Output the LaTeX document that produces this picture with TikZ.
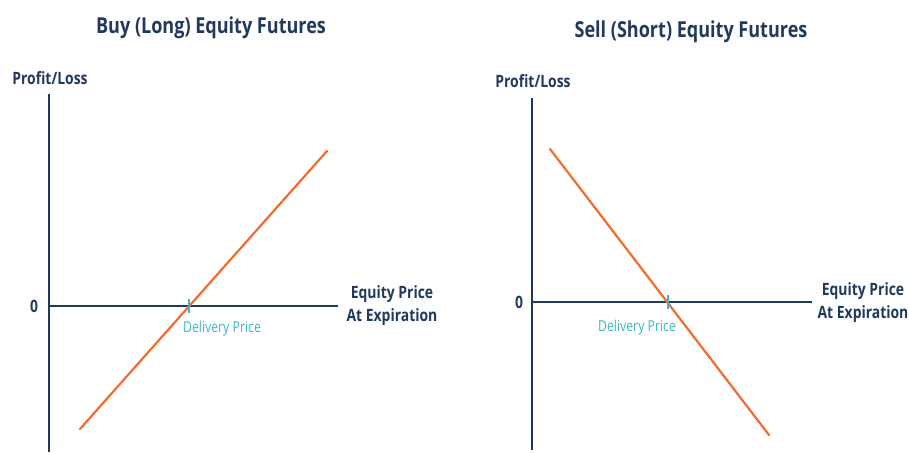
\documentclass[tikz,border=0pt]{standalone}
\usepackage{fontspec}
\setmainfont{Open Sans}[FakeStretch=0.82]
\definecolor{navy}{HTML}{22395E}
\definecolor{orng}{HTML}{F36C2E}
\definecolor{teal2}{HTML}{3DB4C2}
\begin{document}
\begin{tikzpicture}[x=1pt,y=-1pt,
  axis/.style={draw=navy,line width=2.5pt},
  payoff/.style={draw=orng,line width=2.2pt,line cap=round},
  dtick/.style={draw=teal2,line width=1.8pt},
  ttl/.style={text=navy,font=\fontsize{22}{24}\selectfont\bfseries,inner sep=0pt},
  lbl/.style={text=navy,font=\fontsize{17}{19}\selectfont\bfseries,inner sep=0pt,align=center},
  dlbl/.style={text=teal2,font=\fontsize{15}{17}\selectfont,inner sep=0pt}]
\useasboundingbox (0,0) rectangle (909,452);
% left chart
\node[ttl] (t1) at (211,28) {Buy (Long) Equity Futures};
\node[lbl] (pl1) at (50,78) {Profit/Loss};
\coordinate (ya1t) at (49,94);
\coordinate (ya1b) at (49,452);
\coordinate (xa1l) at (49,306);
\coordinate (xa1r) at (338,306);
\draw[axis] (ya1t) -- (ya1b);
\draw[axis] (xa1l) -- (xa1r);
\node[lbl] (z1) at (34,306) {0};
\node[lbl,font=\fontsize{17}{23}\selectfont\bfseries] (ep1) at (392,306) {Equity Price\\At Expiration};
\coordinate (a1) at (80,429);
\coordinate (b1) at (327,151);
\draw[payoff] (a1) -- (b1);
\coordinate (k1t) at (189,299);
\coordinate (k1b) at (189,313);
\draw[dtick] (k1t) -- (k1b);
\node[dlbl] (d1) at (222,329) {Delivery Price};
% right chart
\node[ttl] (t2) at (691,32) {Sell (Short) Equity Futures};
\node[lbl] (pl2) at (533,81) {Profit/Loss};
\coordinate (ya2t) at (532,98);
\coordinate (ya2b) at (532,450);
\coordinate (xa2l) at (532,302);
\coordinate (xa2r) at (812,302);
\draw[axis] (ya2t) -- (ya2b);
\draw[axis] (xa2l) -- (xa2r);
\node[lbl] (z2) at (519,302) {0};
\node[lbl,font=\fontsize{17}{23}\selectfont\bfseries] (ep2) at (863,303) {Equity Price\\At Expiration};
\coordinate (a2) at (550,149);
\coordinate (b2) at (769,435);
\draw[payoff] (a2) -- (b2);
\coordinate (k2t) at (668,295);
\coordinate (k2b) at (668,309);
\draw[dtick] (k2t) -- (k2b);
\node[dlbl] (d2) at (637,328) {Delivery Price};
\end{tikzpicture}
\end{document}
